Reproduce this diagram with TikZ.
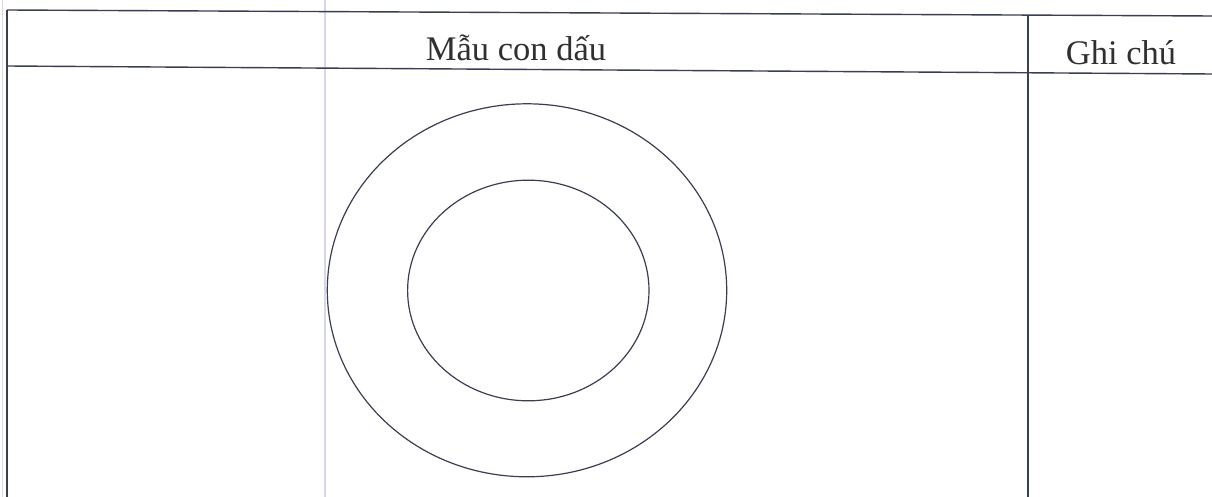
\documentclass[tikz,border=0pt]{standalone}
\usepackage{fontspec}
\setmainfont{Liberation Serif}
\definecolor{ink}{HTML}{3A3E52}
\definecolor{faint}{HTML}{D6D6EC}
\definecolor{txt}{HTML}{303030}
\begin{document}
\begin{tikzpicture}[x=1pt,y=-1pt,
  rule/.style={draw=ink,line width=1.4pt},
  ghost/.style={draw=faint,line width=1.6pt},
  ring/.style={draw=ink,line width=1.2pt},
  head/.style={text=txt,inner sep=0pt,anchor=base,font=\fontsize{34.5}{38}\selectfont}]
\fill[white] (0,0) rectangle (1212,497);
\useasboundingbox (0,0) rectangle (1212,497);
% faint scan lines
\draw[ghost] (325,0) -- (325,497);
\draw[draw=black!15,line width=1pt] (2.5,0) -- (2.5,497);
% table rules
\coordinate (tl) at (7,10);
\coordinate (tr) at (1212,16);
\coordinate (hl) at (7,66);
\coordinate (hr) at (1212,74);
\coordinate (bl) at (7,497);
\coordinate (dt) at (1028,15);
\coordinate (db) at (1028,497);
\draw[rule] (tl) -- (tr);
\draw[rule] (hl) -- (hr);
\draw[rule] (tl) -- (bl);
\draw[rule] (dt) -- (db);
% header texts
\node[head] (mau) at (516,61) {Mẫu con dấu};
\node[head] (ghichu) at (1121,65) {Ghi chú};
% seal outline
\draw[ring] (527,290.3) ellipse [x radius=199.7, y radius=186.5];
\draw[ring] (528.3,290.5) ellipse [x radius=120.7, y radius=110.3];
\end{tikzpicture}
\end{document}
